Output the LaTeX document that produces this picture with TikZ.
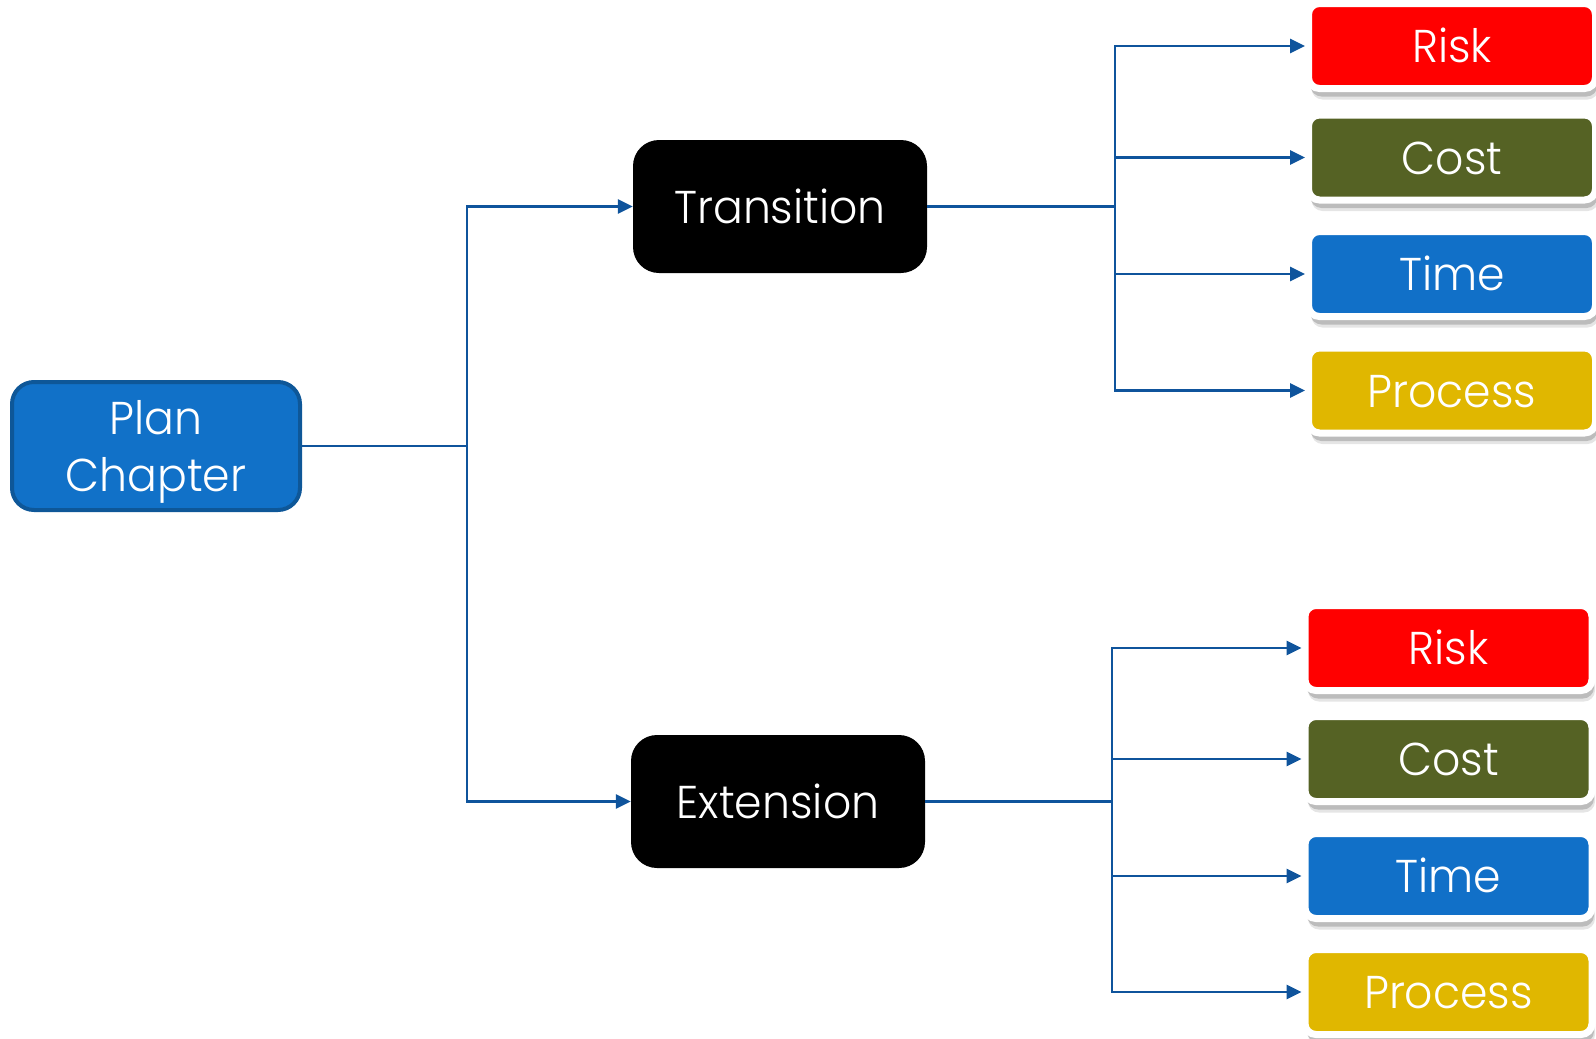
\documentclass[tikz,border=0pt]{standalone}
\usepackage{fontspec}
\setmainfont{Poppins Light}[FakeStretch=0.96]
\usetikzlibrary{arrows.meta,shadows}
\definecolor{linec}{HTML}{0F549C}
\definecolor{planfill}{HTML}{1171C8}
\definecolor{planbord}{HTML}{0E5798}
\definecolor{riskc}{HTML}{FF0000}
\definecolor{costc}{HTML}{556224}
\definecolor{timec}{HTML}{1170C8}
\definecolor{procc}{HTML}{E0B700}
\begin{document}
\begin{tikzpicture}[x=1pt,y=-1pt,
  lbl/.style={text=white,font=\fontsize{46}{57}\selectfont},
  planbox/.style={lbl, fill=planfill, draw=planbord, line width=4pt, rounded corners=22pt,
    minimum width=288pt, minimum height=128pt, align=center, inner sep=0pt, text depth=0pt},
  blackbox/.style={lbl, fill=black, rounded corners=26pt, minimum width=294pt,
    minimum height=133pt, text height=33pt, text depth=0pt, inner sep=0pt},
  catbox/.style={lbl, draw=white, line width=7pt, rounded corners=11pt,
    minimum width=287pt, minimum height=85pt, text height=33pt, text depth=0pt, inner sep=0pt,
    drop shadow={shadow xshift=-2pt, shadow yshift=1pt, opacity=0.07, fill=black},
    drop shadow={shadow xshift=2pt, shadow yshift=-8pt, opacity=0.18, fill=black},
    drop shadow={shadow xshift=3pt, shadow yshift=-11pt, opacity=0.10, fill=black}},
  conn/.style={draw=linec, line width=2.9pt},
  arr/.style={conn, -{Triangle[length=15pt,width=14pt]}}
]
\useasboundingbox (0,0) rectangle (1596,1039);

\node[planbox] (plan) at (156,446) {Plan\\Chapter};
\node[blackbox] (trans) at (780,206.5) {Transition};
\node[blackbox] (ext) at (778,801.5) {Extension};

\node[catbox, fill=riskc] (r1) at (1452,46) {Risk};
\node[catbox, fill=costc] (c1) at (1452,157.5) {Cost};
\node[catbox, fill=timec] (t1) at (1452,274) {Time};
\node[catbox, fill=procc] (p1) at (1452,390.5) {Process};

\node[catbox, fill=riskc] (r2) at (1448.5,648) {Risk};
\node[catbox, fill=costc] (c2) at (1448.5,759) {Cost};
\node[catbox, fill=timec] (t2) at (1448.5,876) {Time};
\node[catbox, fill=procc] (p2) at (1448.5,992) {Process};

\coordinate (j1) at (467,446);
\coordinate (j2) at (1115,206.5);
\coordinate (j3) at (1112,801.5);

\draw[conn] (plan.east) -- (j1);
\draw[arr] (j1) |- (trans.west);
\draw[arr] (j1) |- (ext.west);

\draw[conn] (trans.east) -- (j2);
\foreach \n in {r1,c1,t1,p1} \draw[arr] (j2) |- (\n.west);

\draw[conn] (ext.east) -- (j3);
\foreach \n in {r2,c2,t2,p2} \draw[arr] (j3) |- (\n.west);
\end{tikzpicture}
\end{document}
